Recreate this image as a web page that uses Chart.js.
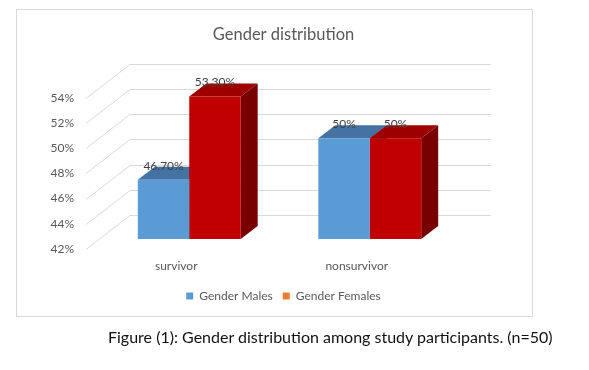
<!DOCTYPE html>
<html>
<head>
<meta charset="utf-8">
<title>Gender distribution</title>
<script src="https://cdn.jsdelivr.net/npm/chart.js@4.4.0/dist/chart.umd.min.js"></script>
<style>
  html, body { margin: 0; padding: 0; background: #fff; }
  #page { position: relative; width: 589px; height: 370px; overflow: hidden; }
  #frame { position: absolute; left: 16px; top: 9px; width: 515px; height: 306px; border: 1px solid #d9d9d9; }
  #wrap { position: absolute; left: 0; top: 0; width: 589px; height: 370px; }
  #caption { position: absolute; left: 108px; top: 327px; line-height: 20px; font-family: Lato, sans-serif; font-size: 16px; color: #111; white-space: nowrap; }
</style>
</head>
<body>
<div id="page">
  <div id="frame"></div>
  <div id="wrap"><canvas id="genderChart"></canvas></div>
  <div id="caption">Figure (1): Gender distribution among study participants. (n=50)</div>
</div>
<script>
// data
const categories = ['survivor', 'nonsurvivor'];
const maleValues = [46.7, 50];
const femaleValues = [53.3, 50];
const maleLabels = ['46.70%', '50%'];
const femaleLabels = ['53.30%', '50%'];
const yTicks = [42, 44, 46, 48, 50, 52, 54];

// fake 3D offsets (px)
const FRONT = { dx: 13, dy: -10 };   // bar front face vs axis plane
const DEPTH = { dx: 17, dy: -13 };   // bar depth
const WALL = { dx: 44, dy: -34 };    // back wall vs axis plane
const legendColors = ['#5B9BD5', '#ED7D31'];

const box3d = {
    id: 'box3d',
    beforeDatasetsDraw(chart) {
        const { ctx, chartArea: a, scales: { y } } = chart;
        ctx.save();
        ctx.strokeStyle = '#d9d9d9';
        ctx.lineWidth = 1;
        y.ticks.forEach(t => {
            const py = Math.round(y.getPixelForValue(t.value)) + 0.5;
            ctx.beginPath();
            ctx.moveTo(a.left, py);
            ctx.lineTo(a.left + WALL.dx, py + WALL.dy);
            ctx.lineTo(a.right + WALL.dx, py + WALL.dy);
            ctx.stroke();
        });
        ctx.restore();

        ctx.save();
        ctx.translate(FRONT.dx, FRONT.dy);
        chart.data.datasets.forEach((ds, i) => {
            chart.getDatasetMeta(i).data.forEach(bar => {
                const { x, y: top, base, width } = bar.getProps(['x', 'y', 'base', 'width'], true);
                const l = x - width / 2, r = x + width / 2;
                ctx.fillStyle = ds.topColor;
                ctx.beginPath();
                ctx.moveTo(l, top);
                ctx.lineTo(r, top);
                ctx.lineTo(r + DEPTH.dx, top + DEPTH.dy);
                ctx.lineTo(l + DEPTH.dx, top + DEPTH.dy);
                ctx.closePath();
                ctx.fill();
                ctx.fillStyle = ds.sideColor;
                ctx.beginPath();
                ctx.moveTo(r, top);
                ctx.lineTo(r + DEPTH.dx, top + DEPTH.dy);
                ctx.lineTo(r + DEPTH.dx, base + DEPTH.dy);
                ctx.lineTo(r, base);
                ctx.closePath();
                ctx.fill();
            });
        });
    },
    afterDatasetsDraw(chart) {
        const { ctx } = chart;
        ctx.font = '12px Lato';
        ctx.fillStyle = '#404040';
        ctx.textAlign = 'center';
        ctx.textBaseline = 'middle';
        chart.data.datasets.forEach((ds, i) => {
            chart.getDatasetMeta(i).data.forEach((bar, j) => {
                ctx.fillText(ds.valueLabels[j], bar.x, bar.y - 14);
            });
        });
        ctx.restore();
    }
};

const tickFont = { family: 'Lato', size: 12 };

new Chart(document.getElementById('genderChart'), {
    type: 'bar',
    data: {
        labels: categories,
        datasets: [{
            label: 'Gender Males',
            data: maleValues,
            valueLabels: maleLabels,
            backgroundColor: '#5B9BD5',
            topColor: '#4372A3',
            sideColor: '#3A6591',
            borderWidth: 0
        }, {
            label: 'Gender Females',
            data: femaleValues,
            valueLabels: femaleLabels,
            backgroundColor: '#C00000',
            topColor: '#9E0000',
            sideColor: '#780000',
            borderWidth: 0
        }]
    },
    options: {
        responsive: true,
        maintainAspectRatio: false,
        animation: false,
        clip: false,
        layout: { padding: { top: 10, left: 0, right: 22, bottom: 58 } },
        datasets: { bar: { categoryPercentage: 0.57, barPercentage: 1, base: yTicks[0] } },
        scales: {
            x: {
                grid: { display: false, drawTicks: false },
                border: { display: false },
                ticks: { color: '#595959', font: tickFont, padding: 10 },
                afterFit(s) { s.height = 31; }
            },
            y: {
                min: yTicks[0],
                max: yTicks[yTicks.length - 1],
                grid: { display: false, drawTicks: false },
                border: { display: false },
                ticks: {
                    stepSize: 2,
                    color: '#595959',
                    font: tickFont,
                    padding: 12,
                    callback: v => v + '%'
                },
                afterFit(s) { s.width = 86; }
            },
            yPad: {
                type: 'linear',
                position: 'right',
                grid: { display: false },
                border: { display: false },
                ticks: { display: false },
                afterFit(s) { s.width = 120; }
            }
        },
        plugins: {
            title: {
                display: true,
                text: 'Gender distribution',
                color: '#595959',
                font: { family: 'Lato', size: 16.5, weight: 'normal' },
                padding: { top: 15, bottom: 53 }
            },
            legend: {
                position: 'bottom',
                labels: {
                    boxWidth: 7,
                    boxHeight: 7,
                    padding: 10,
                    color: '#595959',
                    font: tickFont,
                    generateLabels(chart) {
                        const items = Chart.defaults.plugins.legend.labels.generateLabels(chart);
                        items.forEach((it, i) => {
                            it.fillStyle = legendColors[i];
                            it.strokeStyle = legendColors[i];
                            it.lineWidth = 0;
                        });
                        return items;
                    }
                }
            },
            tooltip: { enabled: false }
        }
    },
    plugins: [box3d]
});
</script>
</body>
</html>
